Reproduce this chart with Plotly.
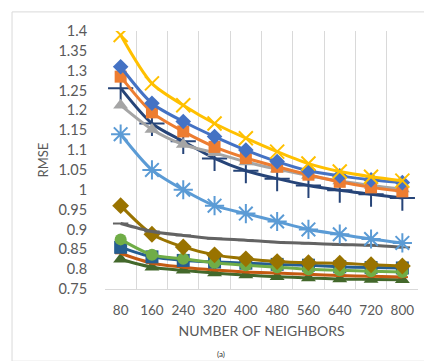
import plotly.graph_objects as go

neighbors = ["80", "160", "240", "320", "400", "480", "560", "640", "720", "800"]

s_gold = [1.39, 1.268, 1.213, 1.167, 1.13, 1.096, 1.066, 1.046, 1.033, 1.023]
s_blue = [1.31, 1.218, 1.172, 1.134, 1.10, 1.071, 1.048, 1.035, 1.025, 1.018]
s_orange = [1.285, 1.195, 1.147, 1.108, 1.08, 1.058, 1.038, 1.02, 1.006, 0.996]
s_gray = [1.213, 1.152, 1.114, 1.093, 1.07, 1.052, 1.036, 1.022, 1.011, 1.002]
s_navy = [1.256, 1.167, 1.122, 1.079, 1.048, 1.028, 1.011, 0.999, 0.989, 0.979]
s_lightblue = [1.14, 1.05, 1.0, 0.96, 0.94, 0.92, 0.9, 0.888, 0.876, 0.866]
s_darkgray = [0.915, 0.895, 0.885, 0.877, 0.873, 0.868, 0.865, 0.862, 0.86, 0.855]
s_darkgold = [0.96, 0.888, 0.856, 0.836, 0.826, 0.819, 0.816, 0.815, 0.811, 0.808]
s_green = [0.875, 0.836, 0.826, 0.816, 0.81, 0.805, 0.8, 0.797, 0.795, 0.793]
s_darkblue = [0.855, 0.831, 0.822, 0.818, 0.815, 0.812, 0.81, 0.806, 0.804, 0.803]
s_rust = [0.84, 0.815, 0.805, 0.798, 0.793, 0.79, 0.787, 0.784, 0.782, 0.78]
s_darkgreen = [0.825, 0.805, 0.797, 0.79, 0.785, 0.781, 0.778, 0.775, 0.774, 0.773]

series = [
    (s_darkgreen, "#43682B", "triangle-up", 13),
    (s_rust, "#C55A11", "line-ew", 8),
    (s_darkblue, "#255E91", "square", 13),
    (s_green, "#70AD47", "circle", 12),
    (s_darkgold, "#997300", "diamond", 13),
    (s_darkgray, "#636363", "line-ew", 11),
    (s_lightblue, "#5B9BD5", "asterisk", 16),
    (s_navy, "#264478", "cross-thin", 18),
    (s_gray, "#A5A5A5", "triangle-up", 13),
    (s_orange, "#ED7D31", "square", 12),
    (s_blue, "#4472C4", "diamond", 12),
    (s_gold, "#FFC000", "x-thin", 14),
]

x = list(range(len(neighbors)))
fig = go.Figure()
for vals, col, sym, sz in series:
    thin = sym.endswith("thin") or sym in ("asterisk", "line-ew")
    fig.add_trace(go.Scatter(
        x=x, y=vals, mode="lines+markers",
        line=dict(color=col, width=3, shape="spline", smoothing=0.8),
        marker=dict(symbol=sym, size=sz, color=col,
                    line=dict(color=col, width=2 if thin else 0)),
        showlegend=False,
    ))

font = "Lato, 'Open Sans', sans-serif"
fig.update_layout(
    width=432, height=361,
    margin=dict(l=97, r=22, t=23, b=80),
    paper_bgcolor="white", plot_bgcolor="white",
    font=dict(family=font, color="#595959"),
    xaxis=dict(
        tickmode="array", tickvals=x, ticktext=neighbors,
        range=[-0.5, 9.5], showgrid=False, zeroline=False,
        showline=True, linecolor="#D9D9D9", linewidth=1,
        ticks="outside", ticklen=9, tickcolor="rgba(0,0,0,0)",
        tickfont=dict(size=13.5, color="#595959"),
        minor=dict(tickmode="linear", tick0=-0.5, dtick=1, showgrid=True,
                   gridcolor="#D9D9D9", gridwidth=1, ticks=""),
        title=dict(text="NUMBER OF NEIGHBORS", font=dict(size=14, color="#595959"), standoff=8),
        fixedrange=True,
    ),
    yaxis=dict(
        range=[0.75, 1.4], tickmode="linear", tick0=0.75, dtick=0.05,
        showgrid=False, zeroline=False, showline=False,
        ticks="outside", ticklen=14, tickcolor="rgba(0,0,0,0)",
        tickfont=dict(size=14.5, color="#595959"),
        title=dict(text="RMSE", font=dict(size=13, color="#595959"), standoff=6),
    ),
    shapes=[dict(type="rect", xref="paper", yref="paper",
                 x0=-0.297, x1=1.061, y0=-0.28, y1=1.074,
                 line=dict(color="#D9D9D9", width=1))],
    annotations=[dict(text="(a)", xref="paper", yref="paper", x=0.37, y=-0.252,
                      xanchor="center", yanchor="middle", showarrow=False,
                      borderpad=0, font=dict(size=8, color="#333333"))],
)

fig.write_html("out.html")
